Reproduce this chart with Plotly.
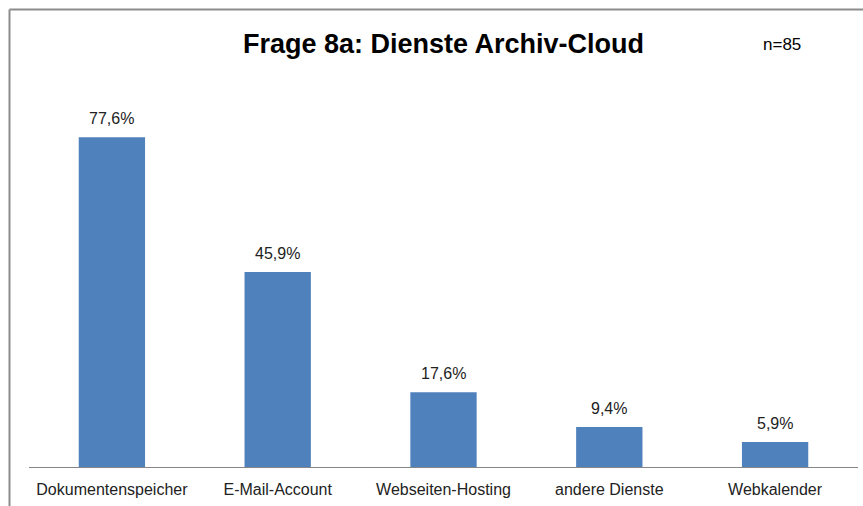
import plotly.graph_objects as go

categories = ["Dokumentenspeicher", "E-Mail-Account", "Webseiten-Hosting", "andere Dienste", "Webkalender"]
values = [77.6, 45.9, 17.6, 9.4, 5.9]
labels = [f"{v:.1f}%".replace(".", ",") for v in values]
title_text = "Frage 8a: Dienste Archiv-Cloud"
n_text = "n=85"

W, H = 863, 506
ML, MR, MT, MB = 29, 5, 80, 39
pw = W - ML - MR
ph = H - MT - MB

def px(x):
    return (x - ML) / pw

def py(y):
    return (H - MB - y) / ph

font = "Liberation Sans, Arial, sans-serif"

fig = go.Figure(go.Bar(
    x=categories, y=values,
    marker=dict(color="#4F81BD", line=dict(width=0)),
    hoverinfo="x+y",
))

annotations = [
    dict(text=f"<b>{title_text}</b>", xref="paper", yref="paper",
         x=px(443), y=py(44), showarrow=False,
         font=dict(size=27, color="#000000", family=font),
         xanchor="center", yanchor="middle"),
    dict(text=n_text, xref="paper", yref="paper",
         x=px(782), y=py(45), showarrow=False,
         font=dict(size=17, color="#000000", family=font),
         xanchor="center", yanchor="middle"),
]
for c, v, t in zip(categories, values, labels):
    annotations.append(dict(text=t, x=c, y=v, xref="x", yref="y",
                            showarrow=False, yanchor="bottom", yshift=8,
                            font=dict(size=16, color="#222222", family=font)))

fig.update_layout(
    width=W, height=H,
    margin=dict(l=ML, r=MR, t=MT, b=MB),
    plot_bgcolor="white", paper_bgcolor="white",
    bargap=0.6,
    showlegend=False,
    font=dict(family=font, size=16, color="#222222"),
    xaxis=dict(showline=True, linecolor="#868686", linewidth=1, ticks="",
               ticklabelstandoff=8,
               tickfont=dict(size=16, color="#222222"), showgrid=False),
    yaxis=dict(visible=False, range=[0, ph / 4.25]),
    annotations=annotations,
    shapes=[
        dict(type="line", xref="paper", yref="paper",
             x0=px(9.5), x1=px(870), y0=py(9.5), y1=py(9.5),
             line=dict(color="#8c8c8c", width=2)),
        dict(type="line", xref="paper", yref="paper",
             x0=px(9.5), x1=px(9.5), y0=py(9.5), y1=py(510),
             line=dict(color="#8c8c8c", width=2)),
    ],
)

fig.write_html("out.html", config={"displayModeBar": False},
               post_script="document.body.style.margin='0';document.body.style.overflow='hidden';")
